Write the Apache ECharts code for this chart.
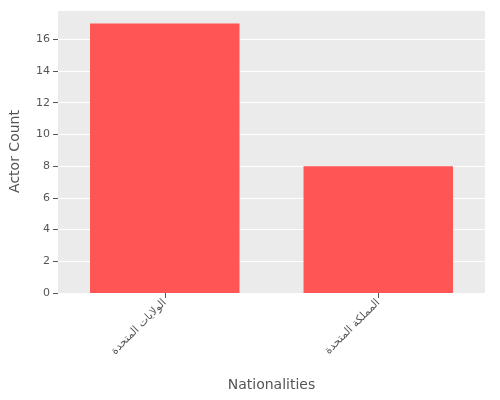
<!DOCTYPE html>
<html><head><meta charset="utf-8">
<script src="https://cdn.jsdelivr.net/npm/echarts@6/dist/echarts.min.js"></script>
<style>html,body{margin:0;padding:0;background:#fff}#c{width:500px;height:400px}</style>
</head><body><div id="c"></div>
<script>
const categories = ["الولايات المتحدة", "المملكة المتحدة"];
const actorCounts = [17, 8];
const chart = echarts.init(document.getElementById('c'));
chart.setOption({
  backgroundColor: '#fff',
  grid: {left: 58, right: 15, top: 10, bottom: 107, backgroundColor: '#EBEBEB', show: true, borderWidth: 0},
  xAxis: {
    type: 'category', data: categories,
    name: 'Nationalities', nameLocation: 'middle', nameGap: 85,
    nameTextStyle: {fontSize: 14, color: '#555', fontFamily: 'DejaVu Sans'},
    axisLine: {show: false}, axisTick: {show: true, alignWithLabel: true, lineStyle: {color: '#555'}},
    axisLabel: {rotate: 45, color: '#555', fontSize: 11, fontFamily: 'DejaVu Sans', interval: 0},
    splitLine: {show: false}
  },
  yAxis: {
    type: 'value', min: 0, max: 17.85, interval: 2,
    name: 'Actor Count', nameLocation: 'middle', nameGap: 36,
    nameTextStyle: {fontSize: 14, color: '#555', fontFamily: 'DejaVu Sans'},
    axisLine: {show: false}, axisTick: {show: true, lineStyle: {color: '#555'}},
    axisLabel: {color: '#555', fontSize: 11, fontFamily: 'DejaVu Sans', showMaxLabel: false},
    splitLine: {lineStyle: {color: '#fff', width: 1}}
  },
  series: [{type: 'bar', data: actorCounts, barWidth: '70%', itemStyle: {color: '#FF5555'}}]
});
</script></body></html>
